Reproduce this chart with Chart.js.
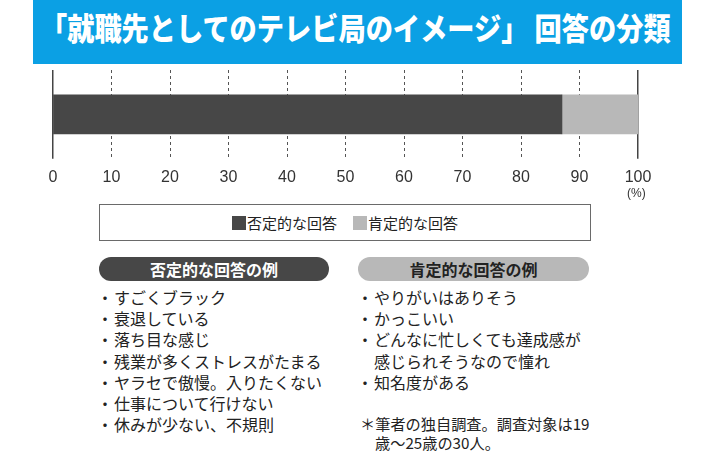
<!DOCTYPE html>
<html lang="ja">
<head>
<meta charset="utf-8">
<script src="https://cdn.jsdelivr.net/npm/chart.js@4.4.1/dist/chart.umd.min.js"></script>
<style>
  html, body { margin: 0; padding: 0; background: #fff; }
  body { width: 714px; height: 476px; position: relative; overflow: hidden;
         font-family: "Noto Sans CJK JP", "Noto Sans", sans-serif; color: #222; }
  #banner { position: absolute; left: 33px; top: 0; width: 649px; height: 64px; background: #0ba0e4; }
  #bannerText { position: absolute; left: 7px; top: 7px; white-space: nowrap; color: #fff;
                font-size: 31px; font-weight: 900; line-height: 40px; transform-origin: left center; }
  #chartBox { position: absolute; left: 0; top: 64px; width: 714px; height: 136px; }
  #pct { position: absolute; left: 627px; top: 186px; font: 12px "Liberation Sans", sans-serif; color: #333; }
  #legend { position: absolute; left: 99px; top: 204px; width: 490px; height: 35px;
            border: 1.5px solid #6a6a6a; display: flex; align-items: center; justify-content: center;
            font-size: 15px; color: #222; }
  #legend .item { display: flex; align-items: center; margin: 0 8px; }
  #legend .sw { width: 14px; height: 14px; margin-right: 1px; }
  .pill { position: absolute; top: 257px; height: 24px; border-radius: 12px; text-align: center;
          font-size: 16px; font-weight: 700; line-height: 24px; }
  .list { position: absolute; top: 287px; font-size: 16px; }
  .line { position: relative; height: 21.2px; line-height: 21.2px; padding-left: 14px; white-space: nowrap; }
  .line .b { position: absolute; left: -3px; top: 0; }
  #note { position: absolute; left: 360px; top: 414px; font-size: 15.2px; line-height: 19px; white-space: nowrap; }
</style>
</head>
<body>
<div id="banner"><span id="bannerText"></span></div>
<div id="chartBox"><canvas id="chart" width="714" height="136"></canvas></div>
<div id="pct">(%)</div>
<div id="legend"></div>
<div class="pill" id="negPill" style="left:99px;width:230px;background:#474747;color:#fff;"></div>
<div class="pill" id="posPill" style="left:358px;width:231px;background:#b8b8b8;color:#222;"></div>
<div class="list" id="negList" style="left:100px;"></div>
<div class="list" id="posList" style="left:360px;"></div>
<div id="note"></div>
<script>
// data
const titleText = "「就職先としてのテレビ局のイメージ」 回答の分類";
const categories = ["テレビ局のイメージ"];
const seriesNames = ["否定的な回答", "肯定的な回答"];
const negativeValues = [87];
const positiveValues = [13];
const seriesColors = ["#474747", "#b8b8b8"];
const negativeExamples = [
  "すごくブラック",
  "衰退している",
  "落ち目な感じ",
  "残業が多くストレスがたまる",
  "ヤラセで傲慢。入りたくない",
  "仕事について行けない",
  "休みが少ない、不規則"
];
// the 3rd item wraps onto a second line
const positiveExamples = [
  ["やりがいはありそう"],
  ["かっこいい"],
  ["どんなに忙しくても達成感が", "感じられそうなので憧れ"],
  ["知名度がある"]
];
const noteLines = ["＊筆者の独自調査。調査対象は19", "歳〜25歳の30人。"];

// title, squeezed to the banner width
const bt = document.getElementById("bannerText");
bt.textContent = titleText;
bt.style.transform = "scaleX(" + (631 / bt.offsetWidth) + ")";

// legend
const legend = document.getElementById("legend");
seriesNames.forEach((name, i) => {
  const item = document.createElement("div");
  item.className = "item";
  item.innerHTML = '<span class="sw" style="background:' + seriesColors[i] + '"></span>' + name;
  legend.appendChild(item);
});

document.getElementById("negPill").textContent = seriesNames[0] + "の例";
document.getElementById("posPill").textContent = seriesNames[1] + "の例";

function addLine(box, text, bullet) {
  const d = document.createElement("div");
  d.className = "line";
  d.innerHTML = (bullet ? '<span class="b">・</span>' : "") + text;
  box.appendChild(d);
}
const negList = document.getElementById("negList");
negativeExamples.forEach(t => addLine(negList, t, true));
const posList = document.getElementById("posList");
positiveExamples.forEach(parts => parts.forEach((t, j) => addLine(posList, t, j === 0)));

const note = document.getElementById("note");
note.innerHTML = noteLines.map((t, i) => '<div style="padding-left:' + (i ? 15 : 0) + 'px">' + t + '</div>').join("");

// chart
new Chart(document.getElementById("chart"), {
  type: "bar",
  data: {
    labels: categories,
    datasets: [
      { label: seriesNames[0], data: negativeValues, backgroundColor: seriesColors[0], barThickness: 39 },
      { label: seriesNames[1], data: positiveValues, backgroundColor: seriesColors[1], barThickness: 39 }
    ]
  },
  options: {
    indexAxis: "y",
    responsive: false,
    animation: false,
    layout: { padding: { left: 53, right: 76, top: 6, bottom: 4 } },
    plugins: { legend: { display: false }, tooltip: { enabled: false } },
    scales: {
      y: { stacked: true, display: false },
      x: {
        stacked: true,
        min: 0, max: 100,
        ticks: { stepSize: 10, padding: 9, color: "#333", font: { family: "Liberation Sans", size: 16 } },
        grid: {
          drawTicks: false,
          color: ctx => (ctx.tick.value === 0 || ctx.tick.value === 100) ? "rgba(0,0,0,0)" : "#555",
          lineWidth: 1
        },
        border: { display: false, dash: [3, 3] }
      },
      // solid end lines at 0 and 100
      x2: {
        type: "linear",
        position: "top",
        min: 0, max: 100,
        ticks: { display: false, stepSize: 100 },
        grid: { drawTicks: false, color: "#444", lineWidth: 1.5 },
        border: { display: false }
      }
    }
  }
});
</script>
</body>
</html>
